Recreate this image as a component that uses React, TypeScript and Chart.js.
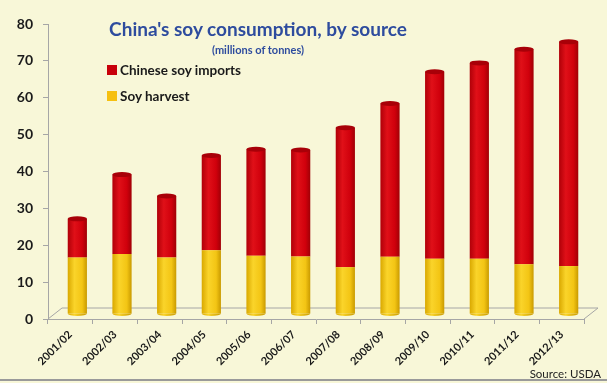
import React, { useEffect, useRef } from "react";
import { Chart, registerables } from "chart.js";

Chart.register(...registerables);

const categories = ["2001/02", "2002/03", "2003/04", "2004/05", "2005/06", "2006/07", "2007/08", "2008/09", "2009/10", "2010/11", "2011/12", "2012/13"];
const soyHarvest = [15.3, 16.3, 15.3, 17.3, 15.8, 15.6, 12.7, 15.5, 15.0, 15.0, 13.5, 13.0];
const soyImports = [10.5, 21.5, 16.7, 25.7, 28.9, 28.9, 37.8, 41.6, 50.7, 53.1, 58.3, 60.8];
const yTicks = { min: 0, max: 80, step: 10 };

const BG = "#F8F7D8";
const AXIS = "#A6A6A6";
const FONT = "Lato, 'Open Sans', sans-serif";

function makeGradient(c: any, dark: string, light: string, edge: string, flat: string) {
  const el = c.element as any;
  if (!el || typeof el.x !== "number" || !isFinite(el.x) || !el.width) return flat;
  const ctx = c.chart.ctx;
  const x0 = el.x - el.width / 2;
  const x1 = el.x + el.width / 2;
  const g = ctx.createLinearGradient(x0, 0, x1, 0);
  g.addColorStop(0, dark);
  g.addColorStop(0.35, light);
  g.addColorStop(0.75, flat);
  g.addColorStop(1, edge);
  return g;
}

const DX = 7;
const DY = -5;

const depthPlugin = {
  id: "depth",
  beforeDraw(chart: any) {
    const { ctx, chartArea } = chart;
    ctx.save();
    ctx.fillStyle = BG;
    ctx.fillRect(0, 0, chart.width, chart.height);
    const { left, right, bottom } = chartArea;
    ctx.strokeStyle = AXIS;
    ctx.lineWidth = 1;
    ctx.beginPath();
    ctx.moveTo(left, bottom);
    ctx.lineTo(left + 14, bottom - 11);
    ctx.lineTo(right + 14, bottom - 11);
    ctx.lineTo(right, bottom);
    ctx.stroke();
    ctx.restore();
  },
  beforeDatasetsDraw(chart: any) {
    chart.ctx.save();
    chart.ctx.translate(DX, DY);
  },
  afterDatasetsDraw(chart: any) {
    const ctx = chart.ctx;
    const m0 = chart.getDatasetMeta(0);
    const m1 = chart.getDatasetMeta(1);
    m0.data.forEach((b: any) => {
      ctx.beginPath();
      ctx.ellipse(b.x, b.base, b.width / 2, 2.5, 0, 0, Math.PI);
      const g = ctx.createLinearGradient(b.x - b.width / 2, 0, b.x + b.width / 2, 0);
      g.addColorStop(0, "#D9A800");
      g.addColorStop(0.35, "#FAD42A");
      g.addColorStop(1, "#C99A00");
      ctx.fillStyle = g;
      ctx.fill();
    });
    m1.data.forEach((b: any) => {
      ctx.beginPath();
      ctx.ellipse(b.x, b.y, b.width / 2, 2.5, 0, 0, Math.PI * 2);
      ctx.fillStyle = "#A80008";
      ctx.fill();
    });
    ctx.restore();
  },
};

export default function App() {
  const ref = useRef<HTMLCanvasElement>(null);
  useEffect(() => {
    if (!ref.current) return;
    const chart = new Chart(ref.current, {
      type: "bar",
      data: {
        labels: categories,
        datasets: [
          {
            label: "Soy harvest",
            data: soyHarvest,
            backgroundColor: (c: any) => makeGradient(c, "#D9A800", "#FAD42A", "#C99A00", "#F3C514"),
            borderWidth: 0,
            barPercentage: 0.43,
            categoryPercentage: 1,
          },
          {
            label: "Chinese soy imports",
            data: soyImports,
            backgroundColor: (c: any) => makeGradient(c, "#B00008", "#E01018", "#A00006", "#D0000C"),
            borderWidth: 0,
            barPercentage: 0.43,
            categoryPercentage: 1,
          },
        ],
      },
      options: {
        responsive: false,
        animation: false,
        devicePixelRatio: 1,
        layout: { padding: { top: 24, right: 23, bottom: 0, left: 0 } },
        plugins: { legend: { display: false }, title: { display: false }, tooltip: { enabled: false } },
        scales: {
          x: {
            stacked: true,
            grid: { offset: true, drawOnChartArea: false, tickLength: 5, color: AXIS },
            border: { color: AXIS },
            ticks: {
              maxRotation: 45,
              minRotation: 45,
              color: "#1a1a1a",
              font: { family: FONT, weight: "bold", size: 11 },
              padding: 4,
            },
            afterFit: (s: any) => {
              s.height = 64;
            },
          },
          y: {
            stacked: true,
            min: yTicks.min,
            max: yTicks.max,
            grid: { drawOnChartArea: false, tickLength: 5, color: AXIS },
            border: { color: AXIS },
            ticks: {
              stepSize: yTicks.step,
              color: "#1a1a1a",
              font: { family: FONT, weight: "bold", size: 14 },
              padding: 10,
            },
            afterFit: (s: any) => {
              s.width = 48;
            },
          },
        },
      },
      plugins: [depthPlugin],
    });
    chart.update("none");
    return () => chart.destroy();
  }, []);

  const blue = "#2E4C9E";
  return (
    <div style={{ position: "fixed", left: 0, top: 0, width: 607, height: 383, background: BG, overflow: "hidden", fontFamily: FONT }}>
      <canvas ref={ref} width={607} height={383} style={{ position: "absolute", left: 0, top: 0, width: 607, height: 383 }} />
      <div style={{ position: "absolute", left: 58, width: 400, top: 17, textAlign: "center", color: blue, fontWeight: "bold", fontSize: 19, lineHeight: "24px", whiteSpace: "nowrap" }}>
        China's soy consumption, by source
      </div>
      <div style={{ position: "absolute", left: 158, width: 200, top: 43, textAlign: "center", color: blue, fontWeight: "bold", fontSize: 11, lineHeight: "14px", whiteSpace: "nowrap" }}>
        (millions of tonnes)
      </div>
      <div style={{ position: "absolute", left: 107, top: 61, display: "flex", alignItems: "center", height: 18, fontWeight: "bold", fontSize: 13.5, color: "#1a1a1a", whiteSpace: "nowrap" }}>
        <span style={{ display: "inline-block", width: 10, height: 10, background: "#C8000A", marginRight: 3 }} />
        Chinese soy imports
      </div>
      <div style={{ position: "absolute", left: 107, top: 87, display: "flex", alignItems: "center", height: 18, fontWeight: "bold", fontSize: 13.5, color: "#1a1a1a", whiteSpace: "nowrap" }}>
        <span style={{ display: "inline-block", width: 10, height: 10, background: "#F6C010", marginRight: 3 }} />
        Soy harvest
      </div>
      <div style={{ position: "absolute", right: 6, top: 366, fontSize: 11.5, color: "#222", whiteSpace: "nowrap", lineHeight: "16px" }}>
        Source: USDA
      </div>
      <div style={{ position: "absolute", left: 0, top: 379, width: 607, height: 2, background: "#9A9A9A" }} />
    </div>
  );
}
